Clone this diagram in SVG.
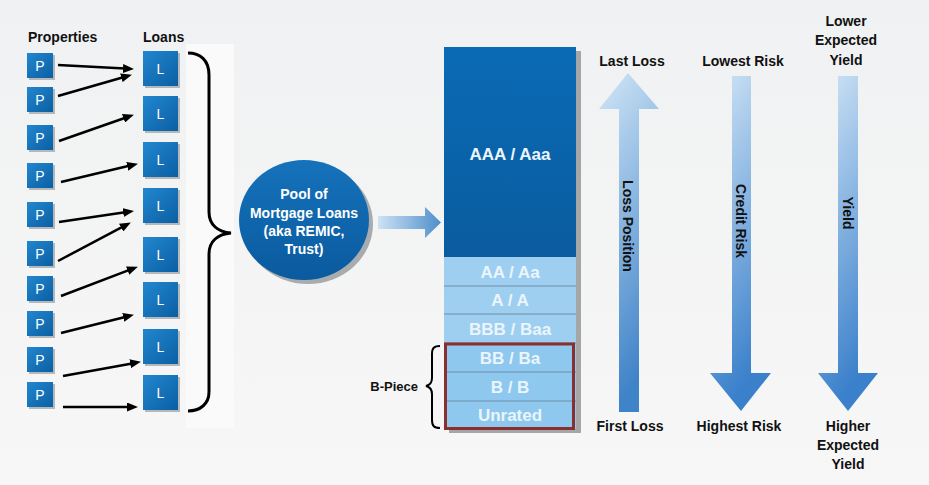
<svg xmlns="http://www.w3.org/2000/svg" width="929" height="485" viewBox="0 0 929 485">
<defs>
<linearGradient id="bg" x1="0" y1="0" x2="0" y2="1"><stop offset="0" stop-color="#f0f1f2"/><stop offset="1" stop-color="#f7f7f7"/></linearGradient>
<linearGradient id="box" x1="0" y1="0" x2="1" y2="1"><stop offset="0" stop-color="#2287cf"/><stop offset="1" stop-color="#0b5fa3"/></linearGradient>
<linearGradient id="pool" x1="0" y1="0" x2="0" y2="1"><stop offset="0" stop-color="#1572bb"/><stop offset="1" stop-color="#0a5a9e"/></linearGradient>
<linearGradient id="aaa" x1="0" y1="0" x2="0" y2="1"><stop offset="0" stop-color="#0a6bb5"/><stop offset="1" stop-color="#0a5c9f"/></linearGradient>
<linearGradient id="harr" x1="0" y1="0" x2="1" y2="0"><stop offset="0" stop-color="#cde2f4"/><stop offset="1" stop-color="#4f8ecb"/></linearGradient>
<linearGradient id="up" x1="0" y1="0" x2="0.25" y2="1"><stop offset="0" stop-color="#d2e7f7"/><stop offset="1" stop-color="#3f83c8"/></linearGradient>
<linearGradient id="down" x1="0" y1="0" x2="0.25" y2="1"><stop offset="0" stop-color="#d2e6f6"/><stop offset="1" stop-color="#3a80cb"/></linearGradient>
<marker id="ah" markerUnits="userSpaceOnUse" markerWidth="11" markerHeight="9" refX="2" refY="4.5" orient="auto"><path d="M0,0 L11,4.5 L0,9 z" fill="#000"/></marker>
</defs>
<style>
.lbl{font-family:"Liberation Sans",Arial,sans-serif;font-weight:bold;font-size:14px;fill:#111;text-anchor:middle}
.bx{fill:url(#box)}
.sh{fill:#b5b8bb}
.bt{font-family:"Liberation Sans",Arial,sans-serif;font-size:14px;fill:#fff;text-anchor:middle}
.tr{font-family:"Liberation Sans",Arial,sans-serif;font-weight:bold;font-size:17px;fill:#eaf5fd;text-anchor:middle}
.pt{font-family:"Liberation Sans",Arial,sans-serif;font-weight:bold;font-size:14px;fill:#fff;text-anchor:middle}
.cn{stroke:#000;stroke-width:2.5;fill:none;marker-end:url(#ah)}
.sep{stroke:#6f8ea8;stroke-width:1}
</style>
<rect width="929" height="485" fill="url(#bg)"/>
<rect x="186" y="44" width="48" height="384" fill="#fafafa"/>

<text class="lbl" x="28" y="42" style="text-anchor:start">Properties</text>
<text class="lbl" x="143" y="42" style="text-anchor:start">Loans</text>

<g id="properties">
<g id="p1"><rect class="sh" x="29" y="55" width="26" height="25"/><rect class="bx" x="27" y="53" width="26" height="25"/><text class="bt" x="40" y="70.5">P</text></g>
<g id="p2"><rect class="sh" x="29" y="89" width="26" height="25"/><rect class="bx" x="27" y="87" width="26" height="25"/><text class="bt" x="40" y="104.5">P</text></g>
<g id="p3"><rect class="sh" x="29" y="127" width="26" height="25"/><rect class="bx" x="27" y="125" width="26" height="25"/><text class="bt" x="40" y="142.5">P</text></g>
<g id="p4"><rect class="sh" x="29" y="165" width="26" height="25"/><rect class="bx" x="27" y="163" width="26" height="25"/><text class="bt" x="40" y="180.5">P</text></g>
<g id="p5"><rect class="sh" x="29" y="204" width="26" height="25"/><rect class="bx" x="27" y="202" width="26" height="25"/><text class="bt" x="40" y="219.5">P</text></g>
<g id="p6"><rect class="sh" x="29" y="243" width="26" height="25"/><rect class="bx" x="27" y="241" width="26" height="25"/><text class="bt" x="40" y="258.5">P</text></g>
<g id="p7"><rect class="sh" x="29" y="278" width="26" height="25"/><rect class="bx" x="27" y="276" width="26" height="25"/><text class="bt" x="40" y="293.5">P</text></g>
<g id="p8"><rect class="sh" x="29" y="313" width="26" height="25"/><rect class="bx" x="27" y="311" width="26" height="25"/><text class="bt" x="40" y="328.5">P</text></g>
<g id="p9"><rect class="sh" x="29" y="349" width="26" height="25"/><rect class="bx" x="27" y="347" width="26" height="25"/><text class="bt" x="40" y="364.5">P</text></g>
<g id="p10"><rect class="sh" x="29" y="384" width="26" height="25"/><rect class="bx" x="27" y="382" width="26" height="25"/><text class="bt" x="40" y="399.5">P</text></g>
</g>

<g id="loans">
<g id="l1"><rect class="sh" x="145" y="53" width="35" height="35"/><rect class="bx" x="143" y="51" width="35" height="35"/><text class="bt" x="160.5" y="73.5">L</text></g>
<g id="l2"><rect class="sh" x="145" y="98" width="35" height="35"/><rect class="bx" x="143" y="96" width="35" height="35"/><text class="bt" x="160.5" y="118.5">L</text></g>
<g id="l3"><rect class="sh" x="145" y="144" width="35" height="35"/><rect class="bx" x="143" y="142" width="35" height="35"/><text class="bt" x="160.5" y="164.5">L</text></g>
<g id="l4"><rect class="sh" x="145" y="190" width="35" height="35"/><rect class="bx" x="143" y="188" width="35" height="35"/><text class="bt" x="160.5" y="210.5">L</text></g>
<g id="l5"><rect class="sh" x="145" y="239" width="35" height="35"/><rect class="bx" x="143" y="237" width="35" height="35"/><text class="bt" x="160.5" y="259.5">L</text></g>
<g id="l6"><rect class="sh" x="145" y="284" width="35" height="35"/><rect class="bx" x="143" y="282" width="35" height="35"/><text class="bt" x="160.5" y="304.5">L</text></g>
<g id="l7"><rect class="sh" x="145" y="331" width="35" height="35"/><rect class="bx" x="143" y="329" width="35" height="35"/><text class="bt" x="160.5" y="351.5">L</text></g>
<g id="l8"><rect class="sh" x="145" y="377" width="35" height="35"/><rect class="bx" x="143" y="375" width="35" height="35"/><text class="bt" x="160.5" y="397.5">L</text></g>
</g>

<g id="connectors">
<line class="cn" x1="58" y1="65" x2="125" y2="68.6"/>
<line class="cn" x1="58" y1="96" x2="123.3" y2="77.2"/>
<line class="cn" x1="59" y1="141" x2="125.4" y2="117.7"/>
<line class="cn" x1="61" y1="182" x2="129.2" y2="165.8"/>
<line class="cn" x1="59" y1="222" x2="125.1" y2="212.2"/>
<line class="cn" x1="58" y1="261" x2="122.9" y2="226.7"/>
<line class="cn" x1="61" y1="296" x2="129.5" y2="269.9"/>
<line class="cn" x1="61" y1="333" x2="125.2" y2="317"/>
<line class="cn" x1="63" y1="376" x2="132.1" y2="363.4"/>
<line class="cn" x1="63" y1="407" x2="129" y2="407"/>
<path d="M188,53 C200,53 209,60 209,75 L209,212 C209,225 218,232 231,233 C218,234 209,241 209,254 L209,392 C209,404 200,411 188,411" stroke="#000" stroke-width="3" fill="none"/>
<polygon points="378,216 425,216 425,207 441,222.5 425,238 425,229 378,229" fill="url(#harr)"/>
</g>

<g id="pool-node">
<ellipse cx="308" cy="224" rx="65" ry="60" fill="#a9acaf"/>
<ellipse cx="304" cy="220" rx="65" ry="60" fill="url(#pool)"/>
<text class="pt" x="304" y="199">Pool of</text>
<text class="pt" x="304" y="218">Mortgage Loans</text>
<text class="pt" x="304" y="236">(aka REMIC,</text>
<text class="pt" x="304" y="254">Trust)</text>
</g>

<g id="tranches">
<rect x="449" y="51" width="132" height="382" fill="#a4a6a8"/>
<rect x="444" y="47" width="132" height="210" fill="url(#aaa)"/>
<rect x="444" y="257" width="132" height="86" fill="#9ecff0"/>
<rect x="444" y="343" width="132" height="86" fill="#8ec8ef"/>
<line class="sep" x1="444" y1="286" x2="576" y2="286"/>
<line class="sep" x1="444" y1="314" x2="576" y2="314"/>
<line class="sep" x1="444" y1="343" x2="576" y2="343"/>
<line class="sep" x1="444" y1="372" x2="576" y2="372"/>
<line class="sep" x1="444" y1="401" x2="576" y2="401"/>
<text class="tr" x="510" y="160">AAA / Aaa</text>
<text class="tr" x="510" y="277.5">AA / Aa</text>
<text class="tr" x="510" y="306">A / A</text>
<text class="tr" x="510" y="334.5">BBB / Baa</text>
<text class="tr" x="510" y="363.5">BB / Ba</text>
<text class="tr" x="510" y="392.5">B / B</text>
<text class="tr" x="510" y="421">Unrated</text>
<rect x="445.5" y="344" width="128" height="84.5" fill="none" stroke="#8b2e2e" stroke-width="3"/>
</g>

<g id="b-piece">
<text class="lbl" x="418" y="391" style="text-anchor:end;font-size:13px">B-Piece</text>
<path d="M440,346 C434,346 432,348 432,354 L432,378 C432,383 430,385 426,386 C430,387 432,389 432,394 L432,420 C432,426 434,428 440,428" stroke="#000" stroke-width="2" fill="none"/>
</g>

<g id="loss-position">
<polygon points="628,73 659,109 639,109 639,412 619,412 619,109 599,109" fill="url(#up)"/>
<text class="lbl" x="632" y="66">Last Loss</text>
<text class="lbl" x="630" y="431">First Loss</text>
<text class="lbl" transform="translate(628,226) rotate(90)" y="5">Loss Position</text>
</g>

<g id="credit-risk">
<polygon points="732,76 751,76 751,373 771,373 741,411 710,373 732,373" fill="url(#down)"/>
<text class="lbl" x="743" y="66">Lowest Risk</text>
<text class="lbl" x="739" y="431">Highest Risk</text>
<text class="lbl" transform="translate(741,221) rotate(90)" y="5">Credit Risk</text>
</g>

<g id="yield">
<polygon points="838,76 858,76 858,373 878,373 848,411 818,373 838,373" fill="url(#down)"/>
<text class="lbl" x="846" y="26">Lower</text>
<text class="lbl" x="846" y="45">Expected</text>
<text class="lbl" x="846" y="65">Yield</text>
<text class="lbl" x="848" y="431">Higher</text>
<text class="lbl" x="848" y="450">Expected</text>
<text class="lbl" x="848" y="469">Yield</text>
<text class="lbl" transform="translate(848,213) rotate(90)" y="5">Yield</text>
</g>
</svg>
